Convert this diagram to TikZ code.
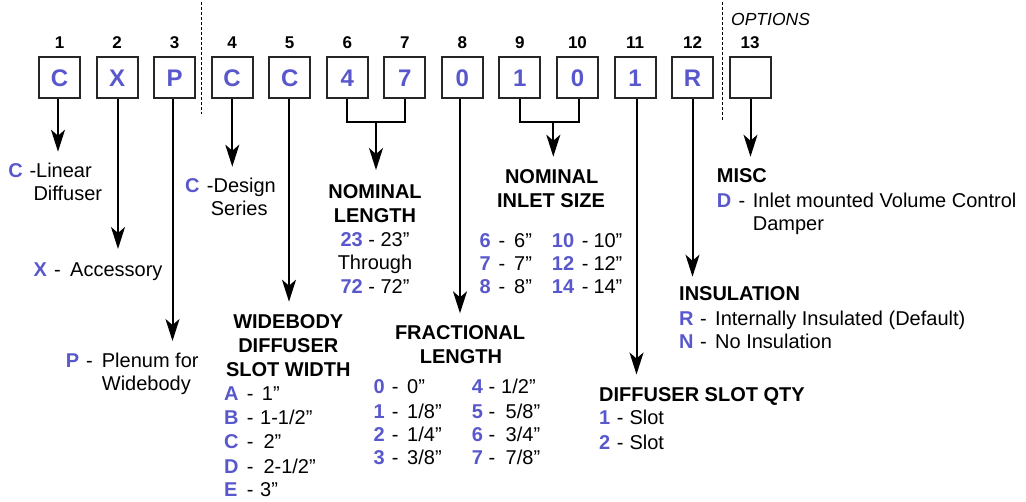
\documentclass[tikz,border=0pt]{standalone}
\usepackage{fontspec}
\setmainfont{Liberation Sans}
\usetikzlibrary{arrows.meta}
\definecolor{codeblue}{RGB}{88,88,204}
\tikzset{
  codebox/.style={draw=black!85, line width=2pt, minimum size=41pt, inner sep=0pt,
    font=\bfseries\fontsize{24}{24}\selectfont, text=codeblue},
  posnum/.style={font=\bfseries\fontsize{17}{17}\selectfont, anchor=base, inner sep=0pt},
  code/.style={font=\bfseries\fontsize{20}{24}\selectfont, text=codeblue, anchor=base west, inner sep=0pt},
  txt/.style={font=\fontsize{20}{24}\selectfont, anchor=base west, inner sep=0pt},
  ctxt/.style={font=\fontsize{20}{24}\selectfont, anchor=base, inner sep=0pt},
  head/.style={font=\bfseries\fontsize{20}{24}\selectfont, anchor=base, inner sep=0pt},
  headw/.style={font=\bfseries\fontsize{20}{24}\selectfont, anchor=base west, inner sep=0pt},
  conn/.style={line width=2pt},
  arr/.style={line width=2pt, -{Stealth[length=22pt,width=14pt,inset=6pt]}},
  sep/.style={line width=0.8pt, dash pattern=on 3pt off 2pt}
}
\newcommand{\cb}[1]{\textcolor{codeblue}{\bfseries #1}}
\begin{document}
\begin{tikzpicture}[x=1pt,y=-1pt]
\useasboundingbox (0,0) rectangle (1026,502);
% separators
\coordinate (s1a) at (201.7,2); \coordinate (s1b) at (201.7,114);
\coordinate (s2a) at (722.5,2); \coordinate (s2b) at (722.5,121.7);
\draw[sep] (s1a) -- (s1b);
\draw[sep] (s2a) -- (s2b);
\node[anchor=base west, inner sep=0pt, font=\itshape\fontsize{17.5}{18}\selectfont] (opt) at (731,26) {OPTIONS};
% boxes and position numbers
\foreach \i/\t in {1/C,2/X,3/P,4/C,5/C,6/4,7/7,8/0,9/1,10/0,11/1,12/R,13/{}} {
  \node[codebox] (b\i) at ({59.5+57.55*(\i-1)},78) {\t};
  \node[posnum] (n\i) at ({59.5+57.55*(\i-1)},48.3) {\i};
}
% arrows
\coordinate (t1) at (58,151.7);
\coordinate (t2) at (118,249);
\coordinate (t3) at (172.5,341);
\coordinate (t4) at (232.3,166.7);
\coordinate (t5) at (289,301.7);
\coordinate (m67) at (376,121.7);
\coordinate (t67) at (376,170);
\coordinate (t8) at (460,313.3);
\coordinate (m910) at (553.3,121.7);
\coordinate (t910) at (553.3,156.7);
\coordinate (t11) at (636.5,374.5);
\coordinate (t12) at (692.5,276.7);
\coordinate (t13) at (750.5,156.7);
\draw[arr] (b1.south -| t1) -- (t1);
\draw[arr] (b2.south -| t2) -- (t2);
\draw[arr] (b3.south -| t3) -- (t3);
\draw[arr] (b4.south -| t4) -- (t4);
\draw[arr] (b5.south -| t5) -- (t5);
\draw[conn] (b6.south) |- (m67) -| (b7.south);
\draw[arr] (m67) -- (t67);
\draw[arr] (b8.south -| t8) -- (t8);
\draw[conn] (b9.south) |- (m910) -| ([xshift=2pt]b10.south);
\draw[arr] (m910) -- (t910);
\draw[arr] (b11.south -| t11) -- (t11);
\draw[arr] (b12.south -| t12) -- (t12);
\draw[arr] (b13.south -| t13) -- (t13);
% block 1
\node[code] (c1) at (8.3,177.3) {C};
\node[txt] (d1a) at (29.3,177.3) {-Linear};
\node[txt] (d1b) at (33.3,201) {Diffuser};
% block 2
\node[code] (c2) at (33.3,276.7) {X};
\node[txt] (h2) at (54,276.7) {-};
\node[txt] (d2) at (70,276.7) {Accessory};
% block 3
\node[code] (c3) at (65.7,367.3) {P};
\node[txt] (h3) at (86,367.3) {-};
\node[txt] (d3a) at (101.7,367.3) {Plenum for};
\node[txt] (d3b) at (101.7,390.7) {Widebody};
% block 4
\node[code] (c4) at (185,192.3) {C};
\node[txt] (d4a) at (206.7,192.3) {-Design};
\node[txt] (d4b) at (210.7,215.7) {Series};
% block 5
\node[head] (w5a) at (288.3,329) {WIDEBODY};
\node[head] (w5b) at (288.3,352.7) {DIFFUSER};
\node[head] (w5c) at (288.3,376.7) {SLOT WIDTH};
\foreach \c/\v/\vx/\y [count=\k] in {A/{1”}/261.7/400.7, B/{1-1/2”}/260/425, C/{2”}/263.3/449, D/{2-1/2”}/263.3/473.3, E/{3”}/260/496.7} {
  \node[code] (c5\k) at (224,\y) {\c};
  \node[txt] (h5\k) at (246.7,\y) {-};
  \node[txt] (v5\k) at (\vx,\y) {\v};
}
% block 6/7
\node[head] (w6a) at (375,199) {NOMINAL};
\node[head] (w6b) at (375,222.7) {LENGTH};
\node[ctxt] (w6c) at (375,246.7) {\cb{23} - 23”};
\node[ctxt] (w6d) at (375,270) {Through};
\node[ctxt] (w6e) at (375,294) {\cb{72} - 72”};
% block 8
\node[head] (w8a) at (460,340) {FRACTIONAL};
\node[head] (w8b) at (461,363.3) {LENGTH};
\foreach \c/\v/\y [count=\k] in {0/{0”}/393.3, 1/{1/8”}/418.3, 2/{1/4”}/441.7, 3/{3/8”}/465} {
  \node[code] (c8l\k) at (373.3,\y) {\c};
  \node[txt] (h8l\k) at (391.7,\y) {-};
  \node[txt] (v8l\k) at (407,\y) {\v};
}
\foreach \c/\v/\vx/\y [count=\k] in {4/{1/2”}/501/393.3, 5/{5/8”}/505.5/418.3, 6/{3/4”}/505.5/441.7, 7/{7/8”}/505.5/465} {
  \node[code] (c8r\k) at (471.7,\y) {\c};
  \node[txt] (h8r\k) at (488.3,\y) {-};
  \node[txt] (v8r\k) at (\vx,\y) {\v};
}
% block 9/10
\node[head] (w9a) at (551.7,183.3) {NOMINAL};
\node[head] (w9b) at (551,207.3) {INLET SIZE};
\foreach \c/\v/\y [count=\k] in {6/{6”}/247.3, 7/{7”}/270.7, 8/{8”}/294} {
  \node[code] (c9l\k) at (479.3,\y) {\c};
  \node[txt] (h9l\k) at (498.3,\y) {-};
  \node[txt] (v9l\k) at (514,\y) {\v};
}
\foreach \c/\v/\y [count=\k] in {10/{10”}/247.3, 12/{12”}/270.7, 14/{14”}/294} {
  \node[code] (c9r\k) at (551.7,\y) {\c};
  \node[txt] (h9r\k) at (581.7,\y) {-};
  \node[txt] (v9r\k) at (593.3,\y) {\v};
}
% block 11
\node[headw] (w11) at (599,401.7) {DIFFUSER SLOT QTY};
\foreach \c/\y [count=\k] in {1/425, 2/449.3} {
  \node[code] (c11\k) at (599,\y) {\c};
  \node[txt] (h11\k) at (616.7,\y) {-};
  \node[txt] (v11\k) at (629.3,\y) {Slot};
}
% block 12
\node[headw] (w12) at (679,301) {INSULATION};
\node[code] (c12a) at (679,325.7) {R};
\node[txt] (h12a) at (700,325.7) {-};
\node[txt] (v12a) at (715,325.7) {Internally Insulated (Default)};
\node[code] (c12b) at (679,349) {N};
\node[txt] (h12b) at (700,349) {-};
\node[txt] (v12b) at (715,349) {No Insulation};
% block 13
\node[headw] (w13) at (716.7,182.7) {MISC};
\node[code] (c13) at (716.7,207.3) {D};
\node[txt] (h13) at (738.3,207.3) {-};
\node[txt] (v13a) at (752.7,207.3) {Inlet mounted Volume Control};
\node[txt] (v13b) at (752.7,231) {Damper};
\end{tikzpicture}
\end{document}
